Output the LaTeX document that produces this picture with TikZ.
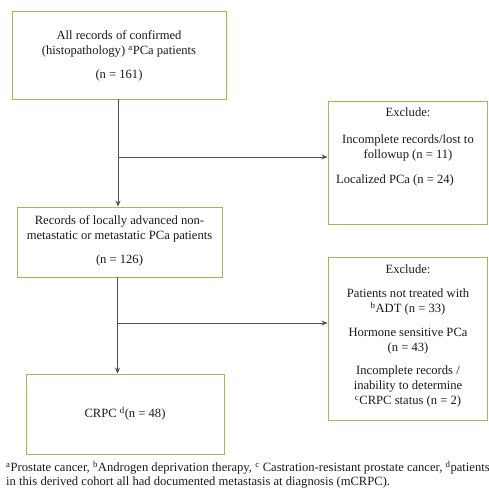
\documentclass[tikz,border=0pt]{standalone}
\usepackage{fontspec}
\setmainfont{Liberation Serif}
\usetikzlibrary{arrows.meta}
\definecolor{boxgreen}{HTML}{9BBB59}
\definecolor{linegray}{HTML}{505050}
\definecolor{txt}{HTML}{1A1A1A}
\tikzset{
  box/.style={draw=boxgreen, line width=0.9pt, fill=white, rectangle, inner sep=0pt},
  txtnode/.style={text=txt, align=center, inner sep=0pt, font=\fontsize{12.6}{14.8}\selectfont},
  conn/.style={draw=linegray, line width=0.8pt},
  arr/.style={conn, -{Stealth[length=6pt,width=5pt]}}
}
\begin{document}
\begin{tikzpicture}[x=1pt,y=-1pt]
\useasboundingbox (0,0) rectangle (489,499);
% boxes
\node[box, minimum width=214pt, minimum height=88pt] (b1) at (119,55) {};
\node[box, minimum width=159pt, minimum height=123pt] (b2) at (407.5,162.5) {};
\node[box, minimum width=205pt, minimum height=70pt] (b3) at (119.5,242) {};
\node[box, minimum width=159pt, minimum height=163pt] (b4) at (407.5,338.5) {};
\node[box, minimum width=198pt, minimum height=80pt] (b5) at (125,414) {};
% texts
\node[txtnode] (t1) at ([yshift=-1pt]b1.center) {All records of confirmed\\(histopathology) \textsuperscript{a}PCa patients\\[9pt](n = 161)};
\node[txtnode, anchor=north] (t2) at (408,108) {Exclude:\\[12pt]Incomplete records/lost to\\followup (n = 11)};
\node[txtnode, anchor=west] (t2b) at (336,180) {Localized PCa (n = 24)};
\node[txtnode] (t3) at ([yshift=1pt]b3.center) {Records of locally advanced non-\\metastatic or metastatic PCa patients\\[10pt](n = 126)};
\node[txtnode, anchor=north] (t4) at (408,265) {Exclude:\\[9pt]Patients not treated with\\\textsuperscript{b}ADT (n = 33)\\[9pt]Hormone sensitive PCa\\(n = 43)\\[9pt]Incomplete records /\\inability to determine\\\textsuperscript{c}CRPC status (n = 2)};
\node[txtnode] (t5) at (b5.center) {CRPC \textsuperscript{d}(n = 48)};
\node[txtnode, anchor=north west, align=left, font=\fontsize{12.6}{14.2}\selectfont] (fn) at (6,461) {\textsuperscript{a}Prostate cancer, \textsuperscript{b}Androgen deprivation therapy, \textsuperscript{c} Castration-resistant prostate cancer, \textsuperscript{d}patients\\in this derived cohort all had documented metastasis at diagnosis (mCRPC).};
% connectors
\coordinate (j1) at ([xshift=-1pt]b1.south |- 0,157);
\coordinate (j2) at ([xshift=-2pt]b3.south |- 0,323);
\draw[arr] ([xshift=-1pt]b1.south) -- ([xshift=-1pt]b1.south |- b3.north);
\draw[arr] (j1) -- (j1 -| b2.west);
\draw[arr] ([xshift=-2pt]b3.south) -- ([xshift=-2pt]b3.south |- b5.north);
\draw[arr] (j2) -- (j2 -| b4.west);
\end{tikzpicture}
\end{document}
